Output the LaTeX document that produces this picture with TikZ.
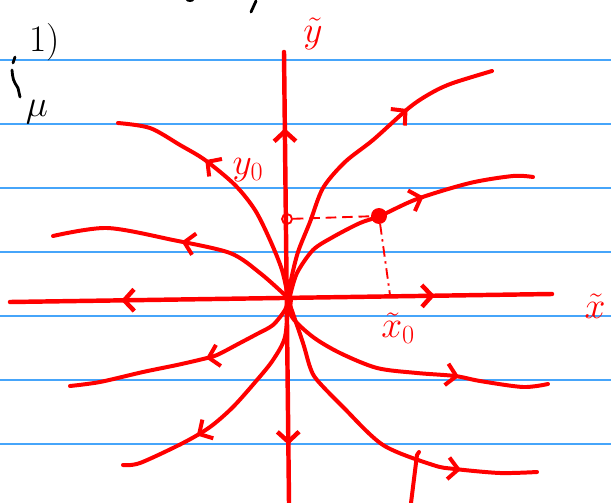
\RequirePackage{fix-cm}
\documentclass[tikz,border=0pt]{standalone}
\usetikzlibrary{arrows.meta,decorations.markings}
\definecolor{ruleblue}{RGB}{70,165,250}
\tikzset{
    traj/.style={red, line width=3.4pt, line cap=round, line join=round},
    axisline/.style={red, line width=3.8pt, line cap=round},
    chev/.style={postaction={decorate, decoration={markings,
        mark=at position #1 with {\arrow{Straight Barb[length=3mm,width=6.5mm]}}}}},
    chevback/.style={postaction={decorate, decoration={markings,
        mark=at position #1 with {\arrowreversed{Straight Barb[length=3mm,width=6.5mm]}}}}},
    ruled/.style={ruleblue, line width=1.4pt},
    hand/.style={font=\fontsize{32}{38}\selectfont, inner sep=0pt},
}
\begin{document}
\begin{tikzpicture}[x=0.03cm, y=-0.03cm]
    % page of lined paper, pixel units (y down)
    \useasboundingbox (0,0) rectangle (611,503);
    \foreach \ry in {60,124,...,444}
        \draw[ruled] (0,\ry) -- (611,\ry);

    % margin notes
    \node[hand, black] (num) at (45,42) {1)};
    \node[hand, black] (mu) at (37,112) {$\mu$};
    \draw[black, line width=2.4pt, line cap=round] (15,57) -- (13,63);
    \draw[black, line width=2.4pt, line cap=round] (12,70) .. controls (13,80) .. (18,88) -- (20,97);
    \draw[black, line width=2.4pt, line cap=round] (251,12) -- (256,1);
    \fill[black] (190,0) ellipse[x radius=4, y radius=2];

    % axes
    \draw[axisline, chevback=0.205, chev=0.784] (10,302) -- (552,294);
    \draw[axisline, chevback=0.169, chev=0.871] (284,52) -- (289,503);

    % trajectories, all leaving the origin
    \draw[traj, chev=0.63] plot[smooth] coordinates {(288,297) (282,270) (270,240) (255,210) (235,185) (205,160) (180,145) (150,128) (118,123)};
    \draw[traj, chev=0.48] plot[smooth] coordinates {(286,296) (260,273) (230,253) (173,240) (107,228) (53,236)};
    \draw[traj, chev=0.71] plot[smooth] coordinates {(289,295) (291,280) (298,252) (310,222) (323,188) (345,162) (373,140) (410,107) (433,92) (453,83) (492,71)};
    \draw[traj, chev=0.61] plot[smooth] coordinates {(290,296) (297,273) (313,250) (333,237) (360,223) (380,216) (417,199) (470,183) (513,176) (533,177)};
    \draw[traj, chev=0.43] plot[smooth] coordinates {(288,300) (285,310) (273,325) (257,334) (240,343) (217,355) (203,359) (177,365) (143,372) (100,382) (70,386)};
    \draw[traj, chev=0.68] plot[smooth] coordinates {(288,300) (285,337) (273,360) (257,380) (233,407) (210,427) (183,443) (140,463) (123,465)};
    \draw[traj, chev=0.69] plot[smooth] coordinates {(291,300) (292,317) (313,337) (340,353) (377,368) (417,373) (455,376) (480,381) (523,387) (548,384)};
    \draw[traj, chev=0.77] plot[smooth] coordinates {(290,305) (303,343) (310,367) (317,380) (343,407) (383,445) (433,465) (455,469) (500,473) (537,472)};
    \draw[traj] (419,452) -- (417,455) -- (411,503);

    % initial point and its projections
    \node[circle, fill=red, inner sep=0pt, minimum size=0.48cm] (pt) at (379,216) {};
    \node[circle, draw=red, line width=1.6pt, inner sep=0pt, minimum size=0.3cm] (ypt) at (287,219) {};
    \coordinate (xpt) at (390,295);
    \draw[red, line width=1.6pt, dash pattern=on 9pt off 5pt] (ypt) -- (pt);
    \draw[red, line width=1.6pt, dash pattern=on 9pt off 4pt on 2pt off 4pt] (pt) -- (xpt);

    % labels
    \node[hand, red] (ylab) at (313,34) {$\tilde{y}$};
    \node[hand, red] (xlab) at (595,306) {$\tilde{x}$};
    \node[hand, red] (x0lab) at (398,328) {$\tilde{x}_0$};
    \node[hand, red] (y0lab) at (248,170) {$y_0$};
\end{tikzpicture}
\end{document}
